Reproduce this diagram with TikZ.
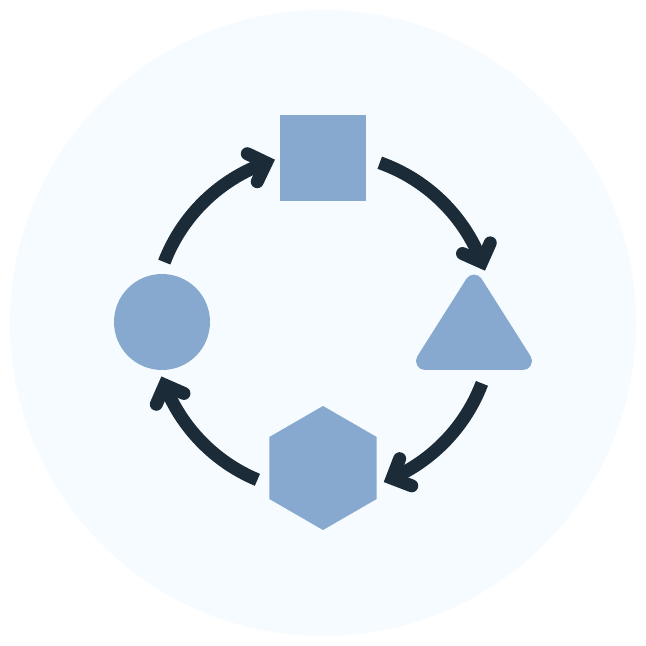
\documentclass[tikz,border=0pt]{standalone}
\usetikzlibrary{calc}
\definecolor{bgc}{HTML}{F5FBFE}
\definecolor{shp}{HTML}{87A9D0}
\definecolor{arr}{HTML}{1B2B38}
\begin{document}
\begin{tikzpicture}[x=1pt,y=1pt,
  shapefill/.style={fill=shp,draw=none,inner sep=0pt},
  arcline/.style={draw=arr,line width=13pt,line cap=butt},
  headline/.style={draw=arr,line width=13pt,line cap=round,line join=miter}]
\useasboundingbox (0,0) rectangle (646,646);
\fill[bgc] (323,323) circle[radius=313pt];
\coordinate (cen) at (323,323);
% shapes
\node[shapefill,minimum size=86pt] (sq) at (323,488) {};
\node[shapefill,circle,minimum size=96pt] (ci) at (162,324) {};
\coordinate (tri) at (474,320);
\filldraw[fill=shp,draw=shp,line width=18pt,line join=round] (425,285) -- (523,285) -- (474,362.4) -- cycle;
\coordinate (hex) at (323,178);
\fill[shp] (hex) +(90:62) -- +(150:62) -- +(210:62) -- +(270:62) -- +(330:62) -- +(30:62) -- cycle;
% arrows
\foreach \a/\b/\n in {159/109.5/1, 70.5/21/2, -20.8/-66/3, 247.3/201.4/4}{
  \coordinate (t\n) at ($(cen)+(\a:170)$);
  \coordinate (p\n) at ($(cen)+(\b:170)$);
  \draw[arcline] (t\n) arc[start angle=\a, end angle=\b, radius=170pt];
  \draw[headline] ($(p\n)+(\b+135:21)$) -- (p\n) -- ($(p\n)+(\b+45:21)$);
}
\end{tikzpicture}
\end{document}
